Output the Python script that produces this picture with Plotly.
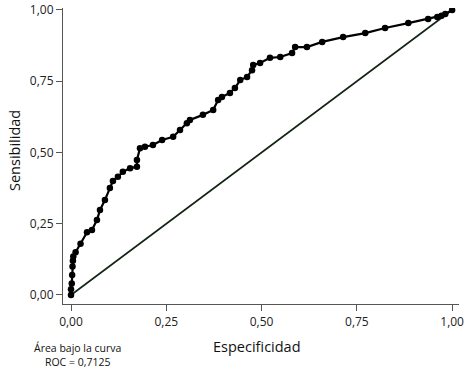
import plotly.graph_objects as go

# ROC curve points
especificidad = [0.0, 0.0, 0.002, 0.003, 0.004, 0.005, 0.006, 0.012, 0.025, 0.042, 0.055, 0.068,
                 0.076, 0.089, 0.102, 0.110, 0.123, 0.136, 0.155, 0.173, 0.173, 0.181,
                 0.194, 0.215, 0.239, 0.268, 0.286, 0.304, 0.312, 0.346, 0.373, 0.386,
                 0.396, 0.417, 0.430, 0.444, 0.462, 0.475, 0.478, 0.496, 0.522, 0.549,
                 0.580, 0.588, 0.619, 0.659, 0.714, 0.772, 0.824, 0.885, 0.937, 0.961,
                 0.972, 0.982, 1.0]
sensibilidad = [0.0, 0.02, 0.04, 0.07, 0.10, 0.12, 0.135, 0.15, 0.18, 0.22, 0.228, 0.263,
                0.298, 0.333, 0.375, 0.40, 0.415, 0.432, 0.445, 0.45, 0.474, 0.515,
                0.52, 0.526, 0.544, 0.555, 0.579, 0.603, 0.614, 0.632, 0.649, 0.684,
                0.695, 0.709, 0.726, 0.754, 0.765, 0.789, 0.807, 0.814, 0.832, 0.835,
                0.849, 0.870, 0.870, 0.888, 0.905, 0.919, 0.937, 0.954, 0.968, 0.975,
                0.980, 0.986, 1.0]
diagonal = [0.0, 1.0]
tick_vals = [0, 0.25, 0.5, 0.75, 1.0]

fig = go.Figure()
fig.add_trace(go.Scatter(x=diagonal, y=diagonal, mode="lines",
                         line=dict(color="#142414", width=1.6), showlegend=False))
fig.add_trace(go.Scatter(x=especificidad, y=sensibilidad, mode="lines+markers",
                         line=dict(color="#000000", width=2.2),
                         marker=dict(color="#000000", size=6.5), showlegend=False))

font_family = "Open Sans, Noto Sans, sans-serif"
axis_common = dict(showline=True, linecolor="#555555", linewidth=1.2, ticks="outside",
                   ticklen=6, tickcolor="#555555", showgrid=False, zeroline=False,
                   tickvals=tick_vals, tickformat=".2f", automargin=False,
                   tickfont=dict(family=font_family, size=12, color="#222222"))
fig.update_layout(
    width=476, height=376,
    margin=dict(l=63, r=17, t=8, b=72),
    paper_bgcolor="white", plot_bgcolor="white",
    separators=",.",
    xaxis=dict(range=[-0.021, 1.018], **axis_common),
    yaxis=dict(range=[-0.0316, 1.007], **axis_common),
    annotations=[
        dict(text="Especificidad", xref="paper", yref="paper", x=0.49, y=-0.142,
             showarrow=False, xanchor="center", yanchor="middle",
             font=dict(family=font_family, size=14.5, color="#111111")),
        dict(text="Sensibilidad", xref="paper", yref="paper", x=-0.124, y=0.52,
             showarrow=False, xanchor="center", yanchor="middle", textangle=-90,
             font=dict(family=font_family, size=14.5, color="#111111")),
        dict(text="Área bajo la curva<br>ROC = 0,7125", xref="paper", yref="paper",
             x=(77 - 63) / 396, y=(304 - 354.5) / 296, showarrow=False,
             xanchor="center", yanchor="middle", align="center",
             font=dict(family=font_family, size=10.5, color="#111111")),
    ],
)
fig.write_html("out.html", config={"displayModeBar": False},
               post_script="document.body.style.margin='0';document.body.style.padding='0';")
